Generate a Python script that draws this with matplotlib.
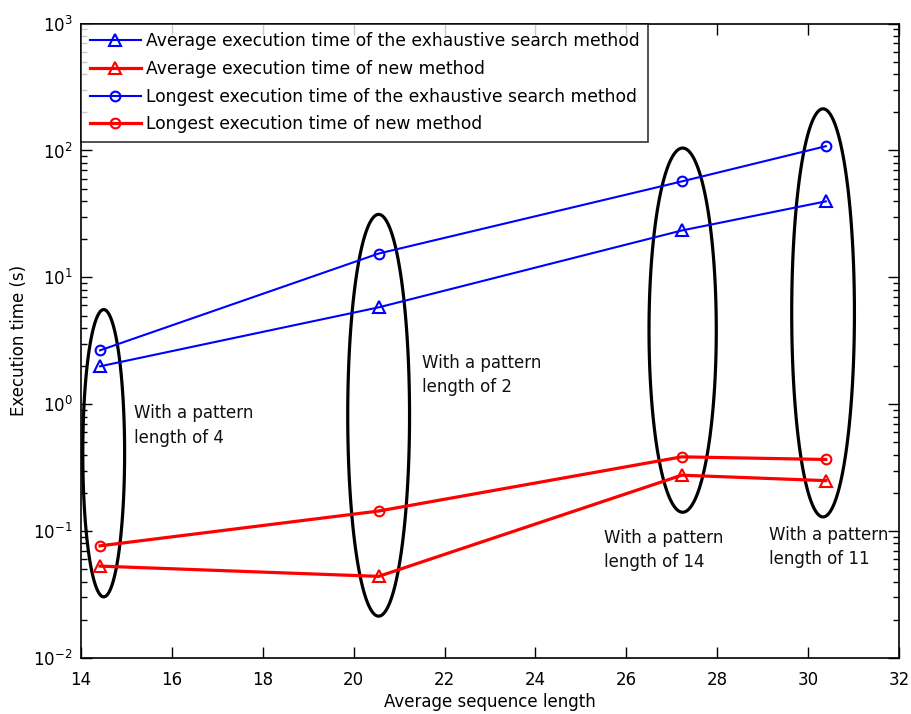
import numpy as np
import matplotlib
matplotlib.use("Agg")
from matplotlib import pyplot as plt
from matplotlib.patches import Polygon

plt.rcParams['font.family'] = ['DejaVu Sans']
plt.rcParams['mathtext.default'] = 'regular'
plt.rcParams['path.simplify'] = False

# average sequence length of each test set
seq_len = [14.42, 20.55, 27.22, 30.39]

# execution times (s)
avg_exhaustive = [1.99, 5.8, 23.4, 39.7]
avg_new = [0.053, 0.044, 0.276, 0.25]
longest_exhaustive = [2.66, 15.4, 57.0, 108.0]
longest_new = [0.0766, 0.144, 0.385, 0.367]

pattern_lengths = [4, 2, 14, 11]

fig = plt.figure(figsize=(9.12, 7.14), dpi=100)
ax = fig.add_axes([0.0888, 0.0784, 0.8969, 0.8886])

ax.plot(seq_len, avg_exhaustive, color='blue', marker='^', ms=8, mfc='none', mew=1.5, lw=1.5,
        label='Average execution time of the exhaustive search method')
ax.plot(seq_len, avg_new, color='red', marker='^', ms=8, mfc='none', mew=1.5, lw=2.3,
        label='Average execution time of new method')
ax.plot(seq_len, longest_exhaustive, color='blue', marker='o', ms=7, mfc='none', mew=1.5, lw=1.5,
        label='Longest execution time of the exhaustive search method')
ax.plot(seq_len, longest_new, color='red', marker='o', ms=7, mfc='none', mew=1.5, lw=2.3,
        label='Longest execution time of new method')

# ellipses round each group: centre x, centre (log10 y), half width, half height (decades)
ell_x = [14.50, 20.55, 27.24, 30.33]
ell_logc = [-0.386, -0.087, 0.584, 0.720]
ell_a = [0.46, 0.68, 0.74, 0.69]
ell_b = [1.132, 1.583, 1.435, 1.608]
t = np.linspace(0, 2 * np.pi, 360, endpoint=False)
for xc, lc, a, b in zip(ell_x, ell_logc, ell_a, ell_b):
    pts = np.column_stack([xc + a * np.cos(t), 10 ** (lc + b * np.sin(t))])
    ax.add_patch(Polygon(pts, closed=True, fill=False, edgecolor='black', lw=2.3,
                         joinstyle='round'))

# group notes
note_x = [15.16, 21.5, 25.5, 29.14]
note_y = [1.0, 2.48, 0.104, 0.11]
for px, py, n in zip(note_x, note_y, pattern_lengths):
    ax.text(px, py, 'With a pattern\nlength of %d' % n, fontsize=12, va='top', ha='left',
            linespacing=1.45, color='#111111')

ax.set_yscale('log')
ax.set_xlim(14, 32)
ax.set_ylim(1e-2, 1e3)
ax.set_xticks(np.arange(14, 33, 2))
ax.set_xlabel('Average sequence length', fontsize=12, labelpad=3)
ax.set_ylabel('Execution time (s)', fontsize=12, labelpad=4)

ax.tick_params(which='both', direction='in', top=True, right=True, labelsize=12, width=1)
ax.tick_params(which='major', length=8)
ax.tick_params(which='minor', length=4)
ax.tick_params(axis='x', which='major', pad=9)
ax.tick_params(axis='y', which='major', pad=6)
for s in ax.spines.values():
    s.set_linewidth(1.2)

leg = ax.legend(loc='upper left', borderaxespad=0, fancybox=False, fontsize=12.3,
                handlelength=3.0, handletextpad=0.3, labelspacing=0.57, borderpad=0.5)
leg.get_frame().set_edgecolor('black')
leg.get_frame().set_linewidth(1.2)

fig.savefig('out.png', dpi=100)
